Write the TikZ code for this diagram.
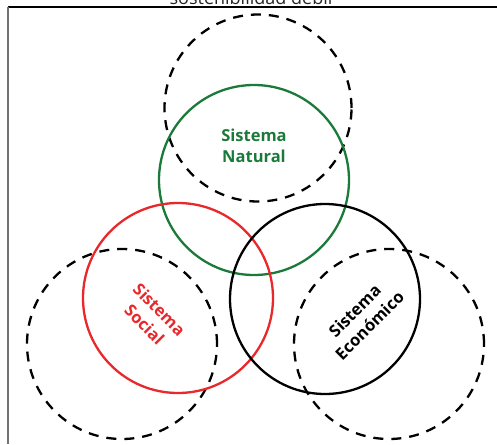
\documentclass[tikz,border=0pt]{standalone}
\usepackage{fontspec}
\setmainfont{Open Sans}
\definecolor{natgreen}{HTML}{1B7A3A}
\definecolor{socred}{HTML}{E8282B}
\begin{document}
\begin{tikzpicture}[x=1pt,y=-1pt,
  ring/.style={circle, draw, line width=2.3pt, minimum size=190pt, inner sep=0pt},
  dring/.style={ring, dash pattern=on 10pt off 8pt},
  lbl/.style={font=\fontsize{16.5}{21}\selectfont\bfseries, align=center, inner sep=0pt}]
\useasboundingbox (0,0) rectangle (497,444);
\clip (0,0) rectangle (497,444);
\node[font=\fontsize{18}{20}\selectfont, text=black!85, anchor=base] (title) at (251,5) {sostenibilidad débil};
\coordinate (tl) at (8,7);
\coordinate (tr) at (497,7);
\coordinate (bl) at (8,444);
\draw[line width=1.5pt] (tl) -- (tr);
\draw[line width=2pt, black!55] (tl) -- (bl);
\node[dring, minimum size=187pt] (dtop) at (258,108) {};
\node[dring] (dleft) at (122,344) {};
\node[dring] (dright) at (389,344) {};
\node[ring, natgreen] (nat) at (254,180) {};
\node[ring, socred] (soc) at (178,298) {};
\node[ring, black] (eco) at (325,299) {};
\node[lbl, text=natgreen] (natl) at (254,146) {Sistema\\Natural};
\node[lbl, text=socred, rotate=-45] (socl) at (152,317) {Sistema\\Social};
\node[lbl, text=black, rotate=45] (ecol) at (362,318) {Sistema\\Económico};
\end{tikzpicture}
\end{document}
